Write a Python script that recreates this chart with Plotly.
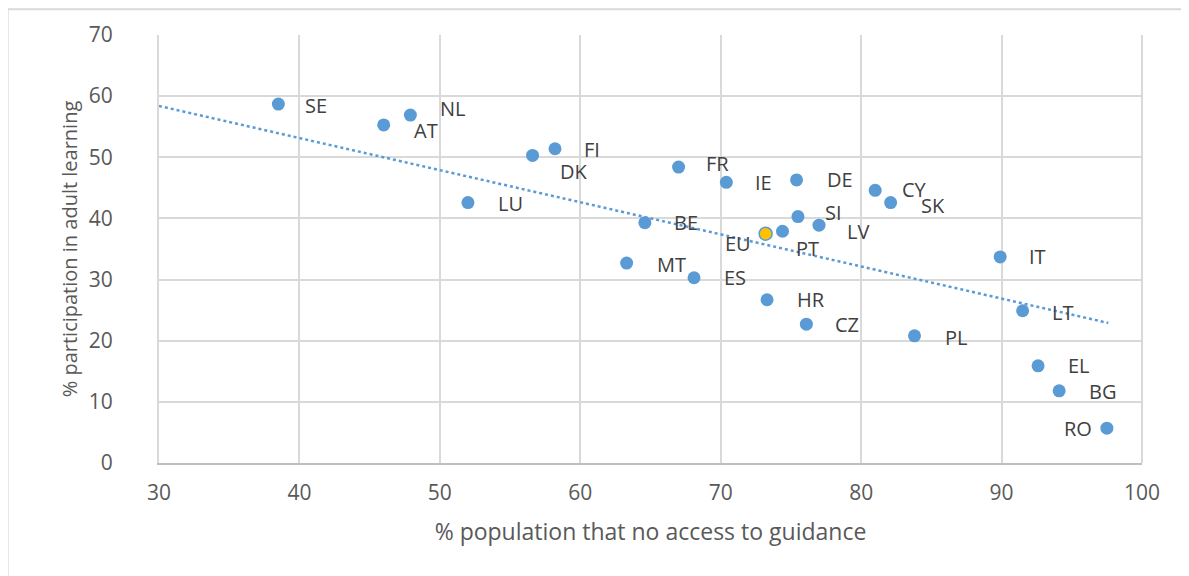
import plotly.graph_objects as go

# country codes and values
countries = ['SE', 'AT', 'NL', 'DK', 'FI', 'LU', 'FR', 'IE', 'DE', 'CY', 'SK', 'SI', 'LV',
             'PT', 'BE', 'MT', 'ES', 'HR', 'CZ', 'PL', 'IT', 'LT', 'EL', 'BG', 'RO']
no_guidance = [38.5, 46.0, 47.9, 56.6, 58.2, 52.0, 67.0, 70.4, 75.4, 81.0, 82.1, 75.5, 77.0,
               74.4, 64.6, 63.3, 68.1, 73.3, 76.1, 83.8, 89.9, 91.5, 92.6, 94.1, 97.5]
participation = [58.7, 55.3, 56.9, 50.3, 51.4, 42.6, 48.4, 45.9, 46.3, 44.6, 42.6, 40.3, 38.9,
                 37.9, 39.3, 32.7, 30.3, 26.7, 22.7, 20.8, 33.7, 24.9, 15.9, 11.8, 5.7]

eu_label = 'EU'
eu_no_guidance = 73.2
eu_participation = 37.5

# Excel linear trendline, end points
trend_x = [30, 97.6]
trend_y = [58.4, 22.9]

x_ticks = [30, 40, 50, 60, 70, 80, 90, 100]
y_ticks = [0, 10, 20, 30, 40, 50, 60, 70]

# label placement (anchor side, x shift px, y shift px) like the Excel data labels
label_pos = {
    'SE': ('left', 25, -1), 'AT': ('left', 28, -6), 'NL': ('left', 28, 7),
    'DK': ('left', 25, -16), 'FI': ('left', 27, -1), 'LU': ('left', 28, -1),
    'FR': ('left', 25, 4), 'IE': ('left', 27, 0), 'DE': ('left', 28, 0),
    'CY': ('left', 25, 1), 'SK': ('left', 28, -3), 'SI': ('left', 25, 4),
    'LV': ('left', 26, -6), 'PT': ('left', 11, -17), 'BE': ('left', 27, 0),
    'MT': ('left', 28, -1), 'ES': ('left', 28, 0), 'HR': ('left', 28, 0),
    'CZ': ('left', 27, 0), 'PL': ('left', 28, -2), 'IT': ('left', 27, 0),
    'LT': ('left', 27, -2), 'EL': ('left', 28, 0), 'BG': ('left', 28, -1),
    'RO': ('right', -13, 0), 'EU': ('right', -13, -10),
}

blue = '#5B9BD5'
grid = '#D9D9D9'
text_grey = '#595959'
label_grey = '#404040'

fig = go.Figure()

fig.add_trace(go.Scatter(x=trend_x, y=trend_y, mode='lines',
                         line=dict(color=blue, width=2.5, dash='dot'),
                         hoverinfo='skip', showlegend=False))

fig.add_trace(go.Scatter(x=no_guidance, y=participation, mode='markers',
                         marker=dict(color=blue, size=13, line=dict(width=0)),
                         text=countries, showlegend=False))

fig.add_trace(go.Scatter(x=[eu_no_guidance], y=[eu_participation], mode='markers',
                         marker=dict(color='#FFC000', size=13, line=dict(color=blue, width=1.5)),
                         text=[eu_label], showlegend=False))

all_labels = countries + [eu_label]
all_x = no_guidance + [eu_no_guidance]
all_y = participation + [eu_participation]
for c, xv, yv in zip(all_labels, all_x, all_y):
    side, dx, dy = label_pos[c]
    fig.add_annotation(x=xv, y=yv, xref='x', yref='y', text=c, showarrow=False,
                       xanchor=side, yanchor='middle', xshift=dx, yshift=dy,
                       font=dict(family='Open Sans', size=20, color=label_grey))

fig.update_xaxes(range=[30, 100], tickvals=x_ticks, showgrid=True, gridcolor=grid, gridwidth=2,
                 zeroline=False, showline=True, linecolor='#BFBFBF', linewidth=2,
                 ticks='', ticklabelstandoff=10,
                 tickfont=dict(family='Open Sans', size=21, color=text_grey),
                 title=dict(text='% population that no access to guidance', standoff=19,
                            font=dict(family='Open Sans', size=23, color=text_grey)))
fig.update_yaxes(range=[0, 70], tickvals=y_ticks, showgrid=True, gridcolor=grid, gridwidth=2,
                 zeroline=False, showline=True, linecolor=grid, linewidth=2,
                 ticks='', ticklabelstandoff=40,
                 tickfont=dict(family='Open Sans', size=21, color=text_grey),
                 title=dict(text='% participation in adult learning', standoff=6,
                            font=dict(family='Open Sans', size=20, color=text_grey)))

# the page body adds 8px around the figure, so margins are set to land the
# plot area at the same place as the reference
fig.update_layout(width=1189, height=576, plot_bgcolor='white', paper_bgcolor='white',
                  margin=dict(l=151, r=55, t=25, b=121), showlegend=False)

# outer chart border (top and left edges visible in the original)
fig.add_shape(type='line', xref='paper', yref='paper', x0=-0.154, x1=1.06, y0=1.06, y1=1.06,
              line=dict(color=grid, width=2))
fig.add_shape(type='line', xref='paper', yref='paper', x0=-0.154, x1=-0.154, y0=-0.3, y1=1.06,
              line=dict(color=grid, width=2))
# right border of the plot area
fig.add_shape(type='line', xref='paper', yref='paper', x0=1, x1=1, y0=0, y1=1,
              line=dict(color=grid, width=2))

fig.write_html("out.html")
